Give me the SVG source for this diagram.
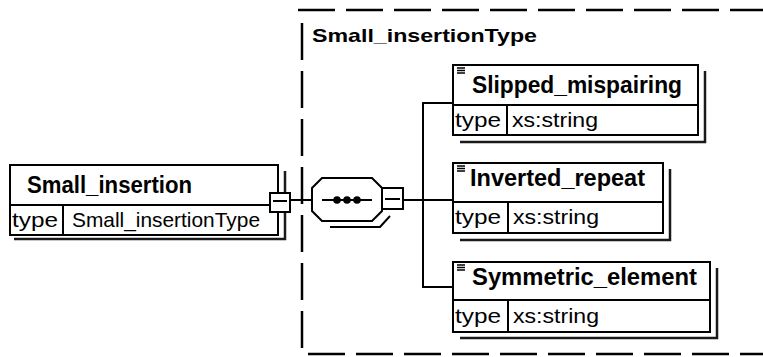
<svg xmlns="http://www.w3.org/2000/svg" width="763" height="357" viewBox="0 0 763 357">
<style>
.box{fill:#fff;stroke:#000;stroke-width:2}
.ln{fill:none;stroke:#000;stroke-width:2}
.sh{fill:none;stroke:#1a1a1a;stroke-width:2.5}
.dash{fill:none;stroke:#000;stroke-width:2.5;stroke-dasharray:37 11}
.nm{font-family:"Liberation Sans",Arial,sans-serif;font-weight:bold;font-size:23px;fill:#000}
.tt{font-family:"Liberation Sans",Arial,sans-serif;font-weight:bold;font-size:19px;fill:#000}
.tp{font-family:"Liberation Sans",Arial,sans-serif;font-size:21px;fill:#000}
.ic{stroke:#000;stroke-width:1.3}
</style>
<rect width="763" height="357" fill="#fff"/>
<g id="container">
<path class="dash" d="M298 10 H763"/>
<path class="dash" d="M302 23 V352"/>
<path class="dash" d="M308 354 H763"/>
<text class="tt" x="312" y="42" textLength="225" lengthAdjust="spacingAndGlyphs">Small_insertionType</text>
</g>
<g id="connectors">
<path class="ln" d="M290 200 H312"/>
<path class="ln" d="M403 200 H423"/>
<path class="ln" d="M453 103 H423 V287 H453"/>
<path class="ln" d="M423 200 H453"/>
</g>
<g id="node-small-insertion">
<path class="sh" d="M285 171 V239 H14"/>
<rect class="box" x="10" y="165" width="268" height="70"/>
<path class="ln" d="M10 205 H278 M63 205 V235"/>
<text class="nm" x="27" y="193" textLength="165" lengthAdjust="spacingAndGlyphs">Small_insertion</text>
<text class="tp" x="12" y="227" textLength="46" lengthAdjust="spacingAndGlyphs">type</text>
<text class="tp" x="72" y="227" textLength="188" lengthAdjust="spacingAndGlyphs">Small_insertionType</text>
<rect class="box" x="270" y="193" width="20" height="19"/>
<path class="ln" d="M273 201 H287"/>
</g>
<g id="sequence">
<path class="ln" d="M330 227 H380 L390 216"/>
<polygon class="box" points="322,178 372,178 382,188 382,211 372,221 322,221 312,211 312,188"/>
<path class="ln" d="M322 200 H372"/>
<circle cx="337" cy="200" r="3.8"/>
<circle cx="347" cy="200" r="3.8"/>
<circle cx="357" cy="200" r="3.8"/>
<rect class="box" x="382" y="188" width="21" height="21"/>
<path class="ln" d="M385 199 H400"/>
</g>
<g id="node-slipped-mispairing">
<path class="sh" d="M705 71 V142 H460"/>
<rect class="box" x="453" y="65" width="245" height="70"/>
<path class="ln" d="M453 105 H698 M507 105 V135"/>
<path class="ic" d="M457 68 H465 M457 70.5 H465 M457 73 H465"/>
<text class="nm" x="472" y="93" textLength="210" lengthAdjust="spacingAndGlyphs">Slipped_mispairing</text>
<text class="tp" x="455" y="127" textLength="46" lengthAdjust="spacingAndGlyphs">type</text>
<text class="tp" x="512" y="127" textLength="86" lengthAdjust="spacingAndGlyphs">xs:string</text>
</g>
<g id="node-inverted-repeat">
<path class="sh" d="M670 169 V240 H460"/>
<rect class="box" x="453" y="163" width="210" height="70"/>
<path class="ln" d="M453 202 H663 M508 202 V233"/>
<path class="ic" d="M457 166 H465 M457 168.5 H465 M457 171 H465"/>
<text class="nm" x="470" y="186" textLength="175" lengthAdjust="spacingAndGlyphs">Inverted_repeat</text>
<text class="tp" x="455" y="224" textLength="46" lengthAdjust="spacingAndGlyphs">type</text>
<text class="tp" x="513" y="224" textLength="86" lengthAdjust="spacingAndGlyphs">xs:string</text>
</g>
<g id="node-symmetric-element">
<path class="sh" d="M717 268 V338 H460"/>
<rect class="box" x="453" y="262" width="257" height="70"/>
<path class="ln" d="M453 300 H710 M508 300 V332"/>
<path class="ic" d="M457 265 H465 M457 267.5 H465 M457 270 H465"/>
<text class="nm" x="472" y="285" textLength="225" lengthAdjust="spacingAndGlyphs">Symmetric_element</text>
<text class="tp" x="455" y="323" textLength="46" lengthAdjust="spacingAndGlyphs">type</text>
<text class="tp" x="513" y="323" textLength="86" lengthAdjust="spacingAndGlyphs">xs:string</text>
</g>
</svg>
